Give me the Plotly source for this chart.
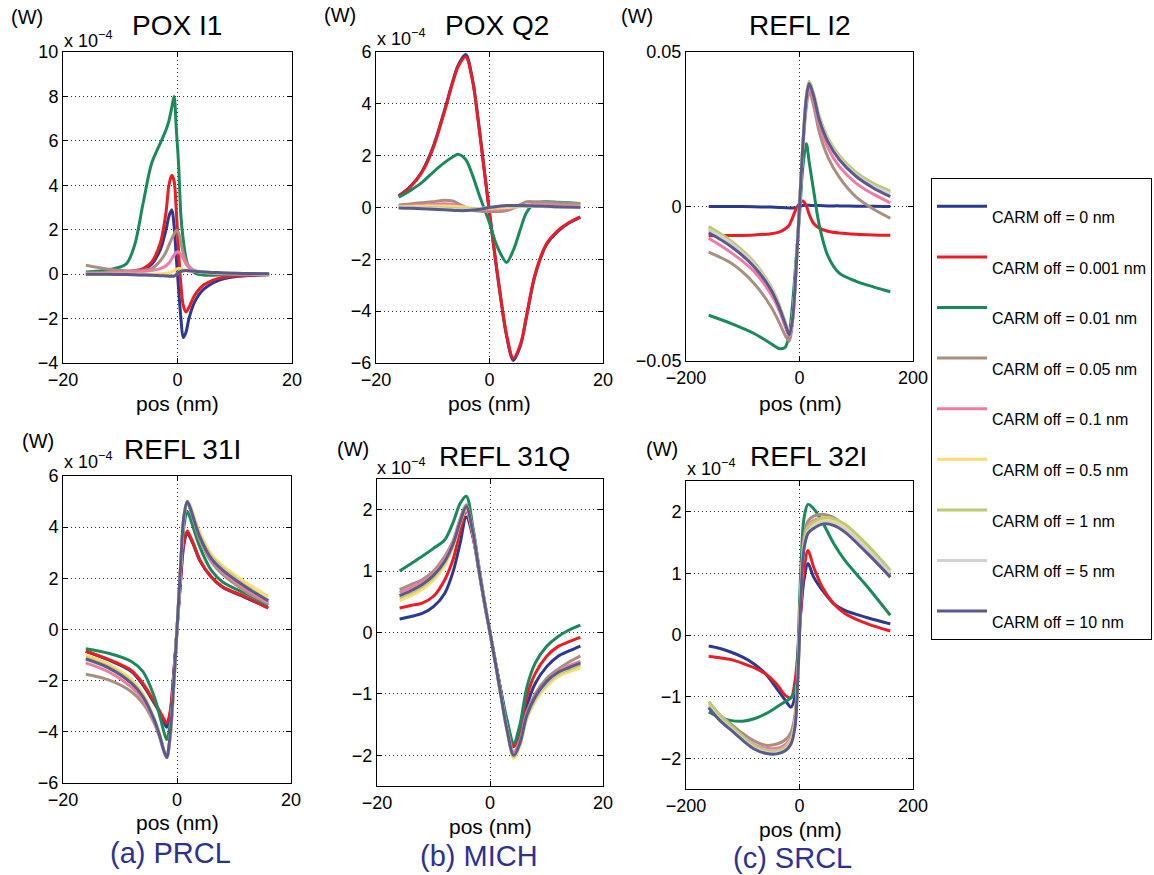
import plotly.graph_objects as go

W, H = 1154, 875
FONT = "Liberation Sans, Arial, Helvetica, sans-serif"

labels = ["CARM off = 0 nm", "CARM off = 0.001 nm", "CARM off = 0.01 nm", "CARM off = 0.05 nm",
          "CARM off = 0.1 nm", "CARM off = 0.5 nm", "CARM off = 1 nm", "CARM off = 5 nm",
          "CARM off = 10 nm"]
colors = ["#2B3990", "#ED1C24", "#1B8A5A", "#A89080", "#F07AA6", "#FBDC6E", "#BACB72",
          "#D2D2D2", "#5C5A8A"]

# ---- POX I1 (units of 1e-4 W) ----
x_pox_i1 = [-16, -12, -9, -7.5, -6, -4.5, -3, -2, -1.5, -1, -0.6, -0.2, 0.2, 0.6, 1, 1.5, 2, 3, 4.5, 7, 10, 16]
pox_i1 = [
    [0, 0.02, 0.05, 0.1, 0.2, 0.45, 1.1, 2.0, 2.6, 2.9, 2.2, 0.7, -0.7, -2.0, -2.85, -2.6, -2.0, -1.25, -0.7, -0.3, -0.12, -0.03],
    [0.03, 0.05, 0.1, 0.15, 0.25, 0.55, 1.4, 2.8, 4.0, 4.45, 4.2, 2.8, 1.0, -0.5, -1.4, -1.7, -1.5, -0.95, -0.5, -0.2, -0.08, -0.02],
    [0.1, 0.2, 0.45, 1.3, 3.2, 5.0, 5.9, 6.5, 6.9, 7.5, 8.0, 6.5, 4.9, 2.6, 1.55, 0.7, 0.3, 0.06, -0.04, -0.04, -0.02, 0],
    [0.4, 0.22, 0.15, 0.15, 0.17, 0.25, 0.6, 1.0, 1.3, 1.6, 1.8, 1.98, 1.85, 1.4, 0.95, 0.55, 0.36, 0.16, 0.08, 0.03, 0.01, 0],
    [0.05, 0.06, 0.08, 0.1, 0.12, 0.17, 0.25, 0.38, 0.5, 0.7, 0.85, 0.98, 1.0, 0.88, 0.7, 0.45, 0.3, 0.15, 0.07, 0.03, 0.01, 0],
    [0, 0, 0, 0, 0, 0, 0.02, 0.04, 0.06, 0.1, 0.15, 0.22, 0.26, 0.25, 0.2, 0.17, 0.15, 0.12, 0.08, 0.05, 0.03, 0.01],
    [0, -0.01, -0.02, -0.02, -0.03, -0.04, -0.05, -0.06, -0.07, -0.08, -0.07, 0.0, 0.08, 0.13, 0.15, 0.16, 0.15, 0.13, 0.1, 0.07, 0.04, 0.02],
    [0, -0.01, -0.02, -0.03, -0.03, -0.04, -0.06, -0.07, -0.08, -0.09, -0.08, -0.01, 0.08, 0.13, 0.15, 0.16, 0.15, 0.13, 0.1, 0.07, 0.04, 0.02],
    [0, -0.01, -0.02, -0.03, -0.04, -0.05, -0.07, -0.08, -0.09, -0.1, -0.09, -0.02, 0.07, 0.12, 0.15, 0.16, 0.15, 0.13, 0.1, 0.07, 0.04, 0.02],
]

# ---- POX Q2 (units of 1e-4 W) ----
x_pox_q2 = [-16, -14, -12, -10, -8, -6.5, -5.5, -4.2, -3, -2, -1, 0, 1, 2, 3, 4.2, 5.5, 6.5, 8, 10, 12, 14, 16]
pox_q2 = [
    [0.45, 0.8, 1.35, 2.3, 3.7, 4.85, 5.5, 5.9, 4.95, 3.4, 1.6, -0.2, -1.95, -3.55, -4.95, -5.9, -5.3, -4.25, -2.65, -1.45, -0.93, -0.6, -0.38],
    [0.44, 0.78, 1.32, 2.25, 3.65, 4.8, 5.45, 5.82, 4.9, 3.35, 1.55, -0.2, -1.9, -3.5, -4.9, -5.82, -5.25, -4.2, -2.6, -1.42, -0.9, -0.58, -0.36],
    [0.4, 0.65, 0.95, 1.35, 1.72, 1.95, 2.05, 1.85, 1.25, 0.6, 0.0, -0.6, -1.3, -1.8, -2.12, -1.65, -0.8, -0.2, 0.17, 0.22, 0.2, 0.18, 0.15],
    [0.1, 0.14, 0.18, 0.22, 0.28, 0.25, 0.15, 0.0, -0.1, -0.14, -0.15, -0.15, -0.15, -0.15, -0.12, -0.02, 0.12, 0.22, 0.22, 0.2, 0.18, 0.16, 0.15],
    [0.05, 0.07, 0.09, 0.12, 0.14, 0.12, 0.08, 0.0, -0.06, -0.08, -0.08, -0.08, -0.08, -0.07, -0.05, 0.0, 0.06, 0.1, 0.12, 0.1, 0.08, 0.07, 0.06],
    [0.03, 0.04, 0.05, 0.06, 0.06, 0.05, 0.03, 0.0, -0.03, -0.04, -0.04, -0.03, -0.02, -0.01, 0.0, 0.02, 0.04, 0.05, 0.05, 0.05, 0.04, 0.03, 0.03],
    [0.01, 0.01, 0.0, -0.01, -0.02, -0.04, -0.05, -0.06, -0.05, -0.04, -0.02, 0.0, 0.02, 0.04, 0.05, 0.05, 0.05, 0.05, 0.04, 0.03, 0.02, 0.02, 0.01],
    [0.0, 0.0, -0.01, -0.03, -0.05, -0.07, -0.08, -0.09, -0.08, -0.06, -0.03, 0.0, 0.03, 0.05, 0.06, 0.07, 0.07, 0.06, 0.05, 0.04, 0.03, 0.02, 0.01],
    [-0.02, -0.03, -0.05, -0.07, -0.09, -0.11, -0.12, -0.12, -0.1, -0.08, -0.04, 0.0, 0.03, 0.06, 0.08, 0.08, 0.08, 0.07, 0.06, 0.05, 0.03, 0.02, 0.01],
]

# ---- REFL I2 (W) ----
x_refl_i2 = [-160, -120, -80, -50, -35, -25, -18, -12, -6, 0, 6, 12, 17, 25, 35, 50, 70, 100, 130, 160]
refl_i2 = [
    [0, 0, -0.0001, -0.0002, -0.0003, -0.0004, -0.0005, -0.0005, -0.0004, 0, 0.0003, 0.0004, 0.0004, 0.0003, 0.0003, 0.0002, 0.0002, 0.0001, 0.0001, 0],
    [-0.0095, -0.0094, -0.0092, -0.0088, -0.0082, -0.0072, -0.006, -0.0035, -0.0008, 0.001, 0.0018, 0.0002, -0.0025, -0.0055, -0.007, -0.008, -0.0086, -0.009, -0.0092, -0.0093],
    [-0.0352, -0.0379, -0.0411, -0.0444, -0.046, -0.0455, -0.041, -0.031, -0.017, -0.003, 0.013, 0.0203, 0.0145, 0.005, -0.0062, -0.016, -0.0216, -0.0242, -0.026, -0.0276],
    [-0.0148, -0.0184, -0.0249, -0.0325, -0.0378, -0.0418, -0.0435, -0.037, -0.02, 0, 0.019, 0.032, 0.0373, 0.0325, 0.024, 0.016, 0.0095, 0.003, -0.0008, -0.0038],
    [-0.0103, -0.015, -0.021, -0.0285, -0.034, -0.039, -0.042, -0.036, -0.02, 0, 0.02, 0.034, 0.039, 0.034, 0.0265, 0.019, 0.013, 0.0075, 0.004, 0.0012],
    [-0.007, -0.0115, -0.0183, -0.0262, -0.0323, -0.0376, -0.0413, -0.0358, -0.02, 0, 0.0205, 0.0355, 0.0403, 0.0362, 0.029, 0.022, 0.0162, 0.0107, 0.0072, 0.0047],
    [-0.0065, -0.0112, -0.018, -0.026, -0.0322, -0.0375, -0.0412, -0.0358, -0.02, 0, 0.0205, 0.0355, 0.0405, 0.0365, 0.0292, 0.0222, 0.0165, 0.011, 0.0075, 0.005],
    [-0.0075, -0.012, -0.0187, -0.0265, -0.0326, -0.0378, -0.0414, -0.036, -0.02, 0, 0.0202, 0.0352, 0.04, 0.036, 0.0285, 0.0215, 0.0158, 0.0103, 0.0067, 0.0042],
    [-0.0085, -0.013, -0.0195, -0.027, -0.033, -0.038, -0.0415, -0.036, -0.02, 0, 0.02, 0.035, 0.0398, 0.0357, 0.028, 0.021, 0.0152, 0.0097, 0.006, 0.0032],
]

# ---- REFL 31I (units of 1e-4 W) ----
x_refl_31i = [-16, -12, -8, -6, -4, -3, -2.3, -1.8, -1.2, -0.6, 0, 0.6, 1.2, 1.8, 2.4, 3, 4, 6, 8, 12, 16]
refl_31i = [
    [-0.85, -1.19, -1.64, -2.16, -2.88, -3.27, -3.62, -3.82, -3.3, -1.8, 0, 1.8, 3.3, 3.75, 3.55, 3.25, 2.7, 2.05, 1.65, 1.25, 0.85],
    [-0.85, -1.17, -1.6, -2.1, -2.82, -3.2, -3.5, -3.65, -3.2, -1.8, 0, 1.85, 3.4, 3.85, 3.6, 3.3, 2.72, 2.06, 1.67, 1.28, 0.83],
    [-0.75, -0.93, -1.25, -1.64, -2.62, -3.4, -4.0, -4.3, -3.7, -2.0, 0, 2.2, 4.0, 4.62, 4.3, 3.88, 3.23, 2.32, 1.86, 1.41, 0.95],
    [-1.75, -1.97, -2.43, -2.88, -3.66, -4.25, -4.75, -5.0, -4.2, -2.3, 0, 2.3, 4.3, 4.95, 4.65, 4.2, 3.5, 2.65, 2.15, 1.5, 1.0],
    [-1.3, -1.65, -2.25, -2.72, -3.6, -4.2, -4.75, -5.0, -4.2, -2.3, 0, 2.3, 4.35, 5.0, 4.7, 4.25, 3.58, 2.72, 2.25, 1.58, 1.05],
    [-1.0, -1.35, -1.95, -2.5, -3.45, -4.1, -4.7, -4.95, -4.2, -2.3, 0, 2.35, 4.4, 5.02, 4.8, 4.4, 3.8, 2.95, 2.5, 1.85, 1.3],
    [-1.1, -1.45, -2.05, -2.58, -3.5, -4.15, -4.72, -4.98, -4.2, -2.3, 0, 2.32, 4.38, 5.0, 4.75, 4.32, 3.68, 2.85, 2.4, 1.72, 1.15],
    [-1.2, -1.52, -2.1, -2.62, -3.53, -4.18, -4.75, -5.0, -4.2, -2.3, 0, 2.32, 4.35, 5.0, 4.72, 4.28, 3.64, 2.8, 2.34, 1.68, 1.1],
    [-1.15, -1.5, -2.1, -2.62, -3.53, -4.18, -4.75, -5.0, -4.1, -2.2, 0, 2.35, 4.4, 5.0, 4.7, 4.27, 3.62, 2.78, 2.32, 1.67, 1.12],
]

# ---- REFL 31Q (units of 1e-4 W) ----
x_refl_31q = [-16, -14, -12, -10, -8, -6.5, -5.3, -4.2, -3, -2, -1, 0, 1, 2, 3, 4.2, 5.3, 6.5, 8, 10, 12, 14, 16]
refl_31q = [
    [0.22, 0.26, 0.31, 0.42, 0.64, 1.0, 1.45, 1.88, 1.55, 1.02, 0.48, 0.0, -0.5, -0.99, -1.48, -1.86, -1.65, -1.2, -0.83, -0.56, -0.39, -0.3, -0.22],
    [0.4, 0.44, 0.48, 0.59, 0.86, 1.2, 1.65, 1.97, 1.56, 1.03, 0.5, 0.0, -0.5, -1.0, -1.45, -1.85, -1.55, -1.05, -0.67, -0.39, -0.23, -0.15, -0.08],
    [1.0, 1.12, 1.24, 1.37, 1.51, 1.8, 2.1, 2.22, 1.7, 1.1, 0.52, 0.0, -0.5, -0.98, -1.42, -1.8, -1.5, -0.9, -0.5, -0.23, -0.07, 0.04, 0.12],
    [0.7, 0.78, 0.86, 1.0, 1.24, 1.5, 1.85, 2.08, 1.65, 1.07, 0.52, 0.0, -0.52, -1.05, -1.55, -1.95, -1.75, -1.3, -1.0, -0.75, -0.6, -0.48, -0.38],
    [0.65, 0.73, 0.82, 0.96, 1.2, 1.48, 1.83, 2.05, 1.63, 1.05, 0.51, 0.0, -0.52, -1.05, -1.56, -1.98, -1.78, -1.34, -1.04, -0.8, -0.64, -0.54, -0.47],
    [0.52, 0.6, 0.7, 0.85, 1.1, 1.4, 1.78, 2.0, 1.6, 1.03, 0.5, 0.0, -0.53, -1.07, -1.6, -2.05, -1.85, -1.42, -1.12, -0.88, -0.72, -0.64, -0.58],
    [0.57, 0.65, 0.75, 0.9, 1.14, 1.43, 1.8, 2.03, 1.62, 1.04, 0.5, 0.0, -0.52, -1.06, -1.58, -2.02, -1.82, -1.38, -1.08, -0.84, -0.68, -0.6, -0.53],
    [0.6, 0.68, 0.78, 0.93, 1.16, 1.45, 1.8, 2.04, 1.62, 1.04, 0.5, 0.0, -0.52, -1.06, -1.58, -2.0, -1.8, -1.36, -1.06, -0.82, -0.66, -0.57, -0.5],
    [0.6, 0.68, 0.78, 0.93, 1.16, 1.45, 1.8, 2.05, 1.62, 1.04, 0.5, 0.0, -0.52, -1.06, -1.58, -2.0, -1.8, -1.35, -1.05, -0.8, -0.65, -0.57, -0.5],
]

# ---- REFL 32I (units of 1e-4 W) ----
x_refl_32i = [-160, -140, -120, -100, -80, -60, -40, -25, -15, -8, -3, 0, 3, 8, 15, 25, 40, 60, 80, 120, 160]
refl_32i = [
    [-0.18, -0.22, -0.28, -0.36, -0.47, -0.63, -0.87, -1.06, -1.17, -1.0, -0.4, 0.1, 0.45, 0.9, 1.16, 0.94, 0.73, 0.51, 0.4, 0.28, 0.18],
    [-0.35, -0.37, -0.4, -0.46, -0.53, -0.63, -0.8, -0.98, -1.02, -0.75, -0.3, 0.1, 0.5, 1.05, 1.37, 1.1, 0.78, 0.51, 0.35, 0.18, 0.065],
    [-1.25, -1.34, -1.39, -1.4, -1.36, -1.28, -1.17, -1.08, -1.02, -0.9, -0.3, 0.5, 1.2, 1.9, 2.12, 2.05, 1.84, 1.49, 1.21, 0.78, 0.32],
    [-1.15, -1.3, -1.45, -1.6, -1.72, -1.79, -1.77, -1.7, -1.58, -1.3, -0.6, 0.18, 0.9, 1.6, 1.85, 1.93, 1.96, 1.91, 1.76, 1.38, 0.94],
    [-1.17, -1.35, -1.5, -1.65, -1.78, -1.84, -1.84, -1.78, -1.66, -1.38, -0.65, 0.1, 0.85, 1.52, 1.78, 1.86, 1.9, 1.86, 1.73, 1.36, 0.95],
    [-1.12, -1.33, -1.5, -1.66, -1.8, -1.87, -1.88, -1.82, -1.7, -1.42, -0.68, 0.05, 0.8, 1.48, 1.74, 1.82, 1.87, 1.86, 1.76, 1.42, 1.02],
    [-1.08, -1.3, -1.48, -1.65, -1.8, -1.87, -1.88, -1.83, -1.71, -1.43, -0.68, 0.05, 0.8, 1.48, 1.75, 1.84, 1.9, 1.89, 1.8, 1.46, 1.05],
    [-1.15, -1.37, -1.53, -1.69, -1.83, -1.9, -1.91, -1.86, -1.74, -1.46, -0.7, 0.0, 0.75, 1.43, 1.68, 1.76, 1.83, 1.82, 1.72, 1.38, 1.0],
    [-1.18, -1.39, -1.55, -1.71, -1.85, -1.92, -1.93, -1.88, -1.77, -1.5, -0.7, -0.03, 0.7, 1.4, 1.65, 1.73, 1.8, 1.78, 1.67, 1.32, 0.94],
]

panel_titles = ["POX I1", "POX Q2", "REFL I2", "REFL 31I", "REFL 31Q", "REFL 32I"]
group_labels = ["(a) PRCL", "(b) MICH", "(c) SRCL"]

panels = [
    dict(x=x_pox_i1, ys=pox_i1, box=(63, 292, 52, 363), xr=[-20, 20], xt=[-20, 0, 20],
         yr=[-4, 10], yt=[-4, -2, 0, 2, 4, 6, 8, 10]),
    dict(x=x_pox_q2, ys=pox_q2, box=(376, 603, 52, 363), xr=[-20, 20], xt=[-20, 0, 20],
         yr=[-6, 6], yt=[-6, -4, -2, 0, 2, 4, 6]),
    dict(x=x_refl_i2, ys=refl_i2, box=(686, 913, 52, 361), xr=[-200, 200], xt=[-200, 0, 200],
         yr=[-0.05, 0.05], yt=[-0.05, 0, 0.05]),
    dict(x=x_refl_31i, ys=refl_31i, box=(63, 291, 476, 783), xr=[-20, 20], xt=[-20, 0, 20],
         yr=[-6, 6], yt=[-6, -4, -2, 0, 2, 4, 6]),
    dict(x=x_refl_31q, ys=refl_31q, box=(377, 603, 479, 786), xr=[-20, 20], xt=[-20, 0, 20],
         yr=[-2.5, 2.5], yt=[-2, -1, 0, 1, 2]),
    dict(x=x_refl_32i, ys=refl_32i, box=(686, 913, 481, 789), xr=[-200, 200], xt=[-200, 0, 200],
         yr=[-2.5, 2.5], yt=[-2, -1, 0, 1, 2]),
]

fig = go.Figure()
layout = {}
for i, p in enumerate(panels):
    n = "" if i == 0 else str(i + 1)
    xa, ya = "x" + n, "y" + n
    for k in range(9):
        fig.add_trace(go.Scatter(
            x=p["x"], y=p["ys"][k], mode="lines", xaxis=xa, yaxis=ya,
            line=dict(color=colors[k], width=3, shape="spline", smoothing=0.9),
            name="<br>" + labels[k], legendgroup=str(k), showlegend=(i == 0),
            hoverinfo="skip"))
    x0, x1, y0, y1 = p["box"]
    common = dict(ticks="inside", ticklen=5, tickwidth=1, tickcolor="black",
                  showline=True, linecolor="black", linewidth=1, mirror="ticks",
                  showgrid=True, gridcolor="#333333", griddash="1px,3px", gridwidth=1,
                  zeroline=False, automargin=False,
                  tickfont=dict(size=18, family=FONT, color="black"))
    layout["xaxis" + n] = dict(domain=[x0 / W, x1 / W], range=p["xr"], tickvals=p["xt"],
                               anchor=ya, **common)
    layout["yaxis" + n] = dict(domain=[1 - y1 / H, 1 - y0 / H], range=p["yr"], tickvals=p["yt"],
                               anchor=xa, **common)

fig.update_layout(**layout)

annotations = []


def ann(text, px, py, size, xanchor="center", color="black"):
    annotations.append(dict(text=text, x=px / W, y=1 - py / H, xref="paper", yref="paper",
                            xanchor=xanchor, yanchor="middle", showarrow=False,
                            font=dict(size=size, family=FONT, color=color)))


title_pos = [(177, 26), (497, 26), (800, 26), (182, 449), (504, 457), (808, 457)]
for t, (px, py) in zip(panel_titles, title_pos):
    ann(t, px, py, 28)

w_pos = [(27, 17), (340, 15), (637, 16), (38, 441), (353, 449), (662, 449)]
for px, py in w_pos:
    ann("(W)", px, py, 20)

sci_pos = [(62, 39), (375, 38), (62, 461), (375, 466), (685, 467)]
for px, py in sci_pos:
    ann("x 10<sup>\u22124</sup>", px, py, 18, xanchor="left")

for px, py in [(177, 403), (489, 403), (800, 403), (177, 822), (490, 826), (800, 829)]:
    ann("pos (nm)", px, py, 21)

for t, (px, py) in zip(group_labels, [(170, 853), (479, 856), (792, 858)]):
    ann(t, px, py, 29, color="#2E3192")

fig.update_layout(
    width=W, height=H, autosize=False,
    margin=dict(l=0, r=0, t=0, b=0, autoexpand=False),
    paper_bgcolor="white", plot_bgcolor="white",
    annotations=annotations,
    showlegend=True,
    legend=dict(x=931 / W, y=1 - 178 / H, xanchor="left", yanchor="top",
                bordercolor="black", borderwidth=1, bgcolor="white",
                font=dict(size=16, family=FONT, color="black"),
                tracegroupgap=6, itemwidth=50),
    font=dict(family=FONT, color="black"),
)

fig.write_html("out.html", config={"displayModeBar": False},
               post_script="document.body.style.margin='0';document.body.style.overflow='hidden';")
